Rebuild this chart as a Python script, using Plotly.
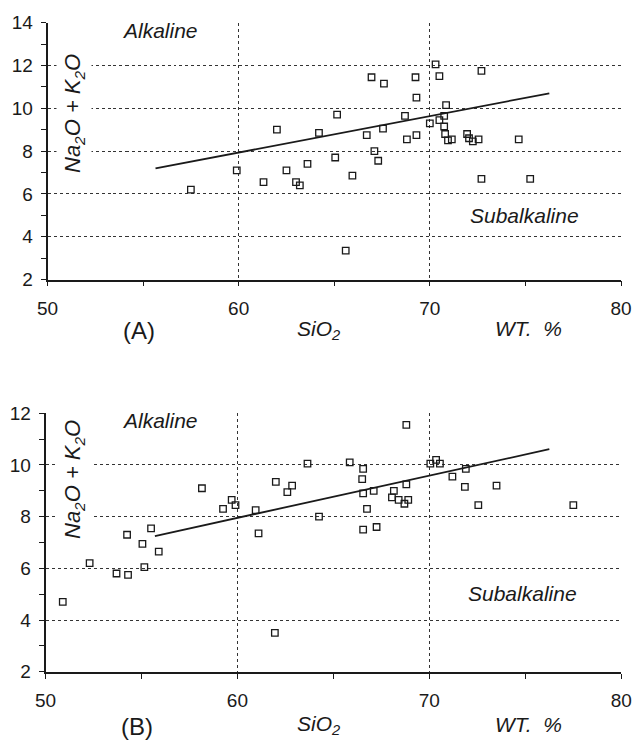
import plotly.graph_objects as go

# ---- data ----
top_sio2 = [57.5, 59.9, 61.3, 62.0, 62.5, 63.0, 63.2, 63.6, 64.2, 65.05,
            65.15, 65.6, 65.95, 66.7, 66.95, 67.1, 67.3, 67.55, 67.6, 68.7,
            68.8, 69.25, 69.3, 69.3, 70.0, 70.3, 70.5, 70.5, 70.75, 70.85,
            70.75, 70.8, 70.95, 71.15, 71.95, 72.05, 72.25, 72.55, 72.7, 72.7,
            74.65, 75.25]
top_alk = [6.2, 7.1, 6.55, 9.0, 7.1, 6.55, 6.4, 7.4, 8.85, 7.7,
           9.7, 3.35, 6.85, 8.75, 11.45, 8.0, 7.55, 9.05, 11.15, 9.65,
           8.55, 11.45, 10.5, 8.75, 9.3, 12.05, 11.5, 9.45, 9.65, 10.15,
           9.15, 8.8, 8.5, 8.55, 8.8, 8.6, 8.45, 8.55, 11.75, 6.7,
           8.55, 6.7]
top_fit_x = [55.65, 76.25]
top_fit_y = [7.19, 10.70]

bot_sio2 = [50.9, 52.3, 53.7, 54.3, 54.25, 55.05, 55.15, 55.5, 55.9, 58.15,
            59.25, 59.7, 59.9, 60.95, 61.1, 62.0, 62.6, 62.85, 61.95, 63.65,
            64.25, 65.85, 66.55, 66.5, 66.55, 67.1, 66.75, 66.55, 67.25, 68.15,
            68.05, 68.4, 68.7, 68.9, 68.8, 68.8, 70.05, 70.35, 70.55, 71.2,
            71.9, 71.85, 72.55, 73.5, 77.5]
bot_alk = [4.7, 6.2, 5.8, 5.75, 7.3, 6.95, 6.05, 7.55, 6.65, 9.1,
           8.3, 8.65, 8.45, 8.25, 7.35, 9.35, 8.95, 9.2, 3.5, 10.05,
           8.0, 10.1, 9.85, 9.45, 8.9, 9.0, 8.3, 7.5, 7.6, 9.0,
           8.75, 8.65, 8.5, 8.65, 9.25, 11.55, 10.05, 10.2, 10.05, 9.55,
           9.85, 9.15, 8.45, 9.2, 8.45]
bot_fit_x = [55.7, 76.25]
bot_fit_y = [7.25, 10.61]

x_ticks = [50, 55, 60, 65, 70, 75, 80]
x_ticktext = ["50", "", "60", "", "70", "", "80"]
x_grid = [60, 70]
top_yticks = list(range(2, 15))
top_yticktext = [str(v) if v % 2 == 0 else "" for v in top_yticks]
top_ygrid = [4, 6, 8, 10, 12]
bot_yticks = list(range(2, 13))
bot_yticktext = [str(v) if v % 2 == 0 else "" for v in bot_yticks]
bot_ygrid = [4, 6, 8, 10]

FONT = "Liberation Sans, Arial, Helvetica, sans-serif"
INK = "#1a1a1a"
W, H = 632, 740

fig = go.Figure()

marker = dict(symbol="square-open", size=6.5, color=INK, line=dict(width=1.3, color=INK))
fig.add_trace(go.Scatter(x=top_sio2, y=top_alk, mode="markers", marker=marker,
                         xaxis="x", yaxis="y", showlegend=False))
fig.add_trace(go.Scatter(x=top_fit_x, y=top_fit_y, mode="lines",
                         line=dict(color=INK, width=1.8),
                         xaxis="x", yaxis="y", showlegend=False))
fig.add_trace(go.Scatter(x=bot_sio2, y=bot_alk, mode="markers", marker=marker,
                         xaxis="x2", yaxis="y2", showlegend=False))
fig.add_trace(go.Scatter(x=bot_fit_x, y=bot_fit_y, mode="lines",
                         line=dict(color=INK, width=1.8),
                         xaxis="x2", yaxis="y2", showlegend=False))

def xaxis(domain, anchor):
    return dict(domain=domain, anchor=anchor, range=[50, 80], automargin=False,
                tickmode="array", tickvals=x_ticks, ticktext=x_ticktext,
                ticks="outside", ticklen=5, tickwidth=1.2, tickcolor=INK,
                showline=True, linecolor=INK, linewidth=1.6,
                showgrid=False, zeroline=False,
                tickfont=dict(family=FONT, size=19, color=INK),
                ticklabelstandoff=6,
                minor=dict(tickmode="array", tickvals=x_grid, showgrid=True,
                           griddash="dot", gridcolor="#333", gridwidth=1.2, ticks=""))

def yaxis(domain, anchor, rng, tv, tt, grid):
    return dict(domain=domain, anchor=anchor, range=rng, automargin=False,
                tickmode="array", tickvals=tv, ticktext=tt,
                ticks="outside", ticklen=5, tickwidth=1.2, tickcolor=INK,
                showline=True, linecolor=INK, linewidth=1.6,
                showgrid=False, zeroline=False,
                tickfont=dict(family=FONT, size=19, color=INK),
                ticklabelstandoff=4,
                minor=dict(tickmode="array", tickvals=grid, showgrid=True,
                           griddash="dot", gridcolor="#333", gridwidth=1.2, ticks=""))

def fx(px):
    return px / W

def fy(py):
    return 1 - py / H

fig.update_layout(
    width=W, height=H, autosize=False,
    margin=dict(l=0, r=0, t=0, b=0, pad=0, autoexpand=False),
    paper_bgcolor="white", plot_bgcolor="white",
    xaxis=xaxis([fx(47.5), fx(621)], "y"),
    yaxis=yaxis([fy(279.5), fy(22.7)], "x", [2, 14], top_yticks, top_yticktext, top_ygrid),
    xaxis2=xaxis([fx(45.5), fx(621.3)], "y2"),
    yaxis2=yaxis([fy(671.7), fy(413.3)], "x2", [2, 12], bot_yticks, bot_yticktext, bot_ygrid),
)

ann = []
def text(x, y, s, size, xref="paper", yref="paper", **kw):
    ann.append(dict(x=x, y=y, xref=xref, yref=yref, text=s, showarrow=False,
                    xanchor="center", yanchor="middle",
                    font=dict(family=FONT, size=size, color=INK), **kw))

# region labels
text(55.9, 13.63, "<i>Alkaline</i>", 21, "x", "y")
text(74.95, 5.01, "<i>Subalkaline</i>", 21, "x", "y")
text(55.98, 11.71, "<i>Alkaline</i>", 21, "x2", "y2")
text(74.87, 5.03, "<i>Subalkaline</i>", 21, "x2", "y2")

# y axis titles (white box hides the grid behind them)
ytitle = "<i>Na<sub>2</sub>O + K<sub>2</sub>O</i>"
text(fx(74), fy(114), ytitle, 22, textangle=-90, bgcolor="white", borderpad=3)
text(fx(74), fy(480), ytitle, 22, textangle=-90, bgcolor="white", borderpad=3)

# x axis captions
text(fx(139), fy(330.5), "(A)", 24)
text(fx(318), fy(330), "<i>SiO<sub>2</sub></i>", 21)
text(fx(528), fy(328.5), "<i>WT.  %</i>", 21)
text(fx(137), fy(726.5), "(B)", 24)
text(fx(318), fy(725), "<i>SiO<sub>2</sub></i>", 21)
text(fx(528), fy(724), "<i>WT.  %</i>", 21)

fig.update_layout(annotations=ann)

fig.write_html("out.html", config={"displayModeBar": False},
               post_script="document.body.style.margin='0';")
